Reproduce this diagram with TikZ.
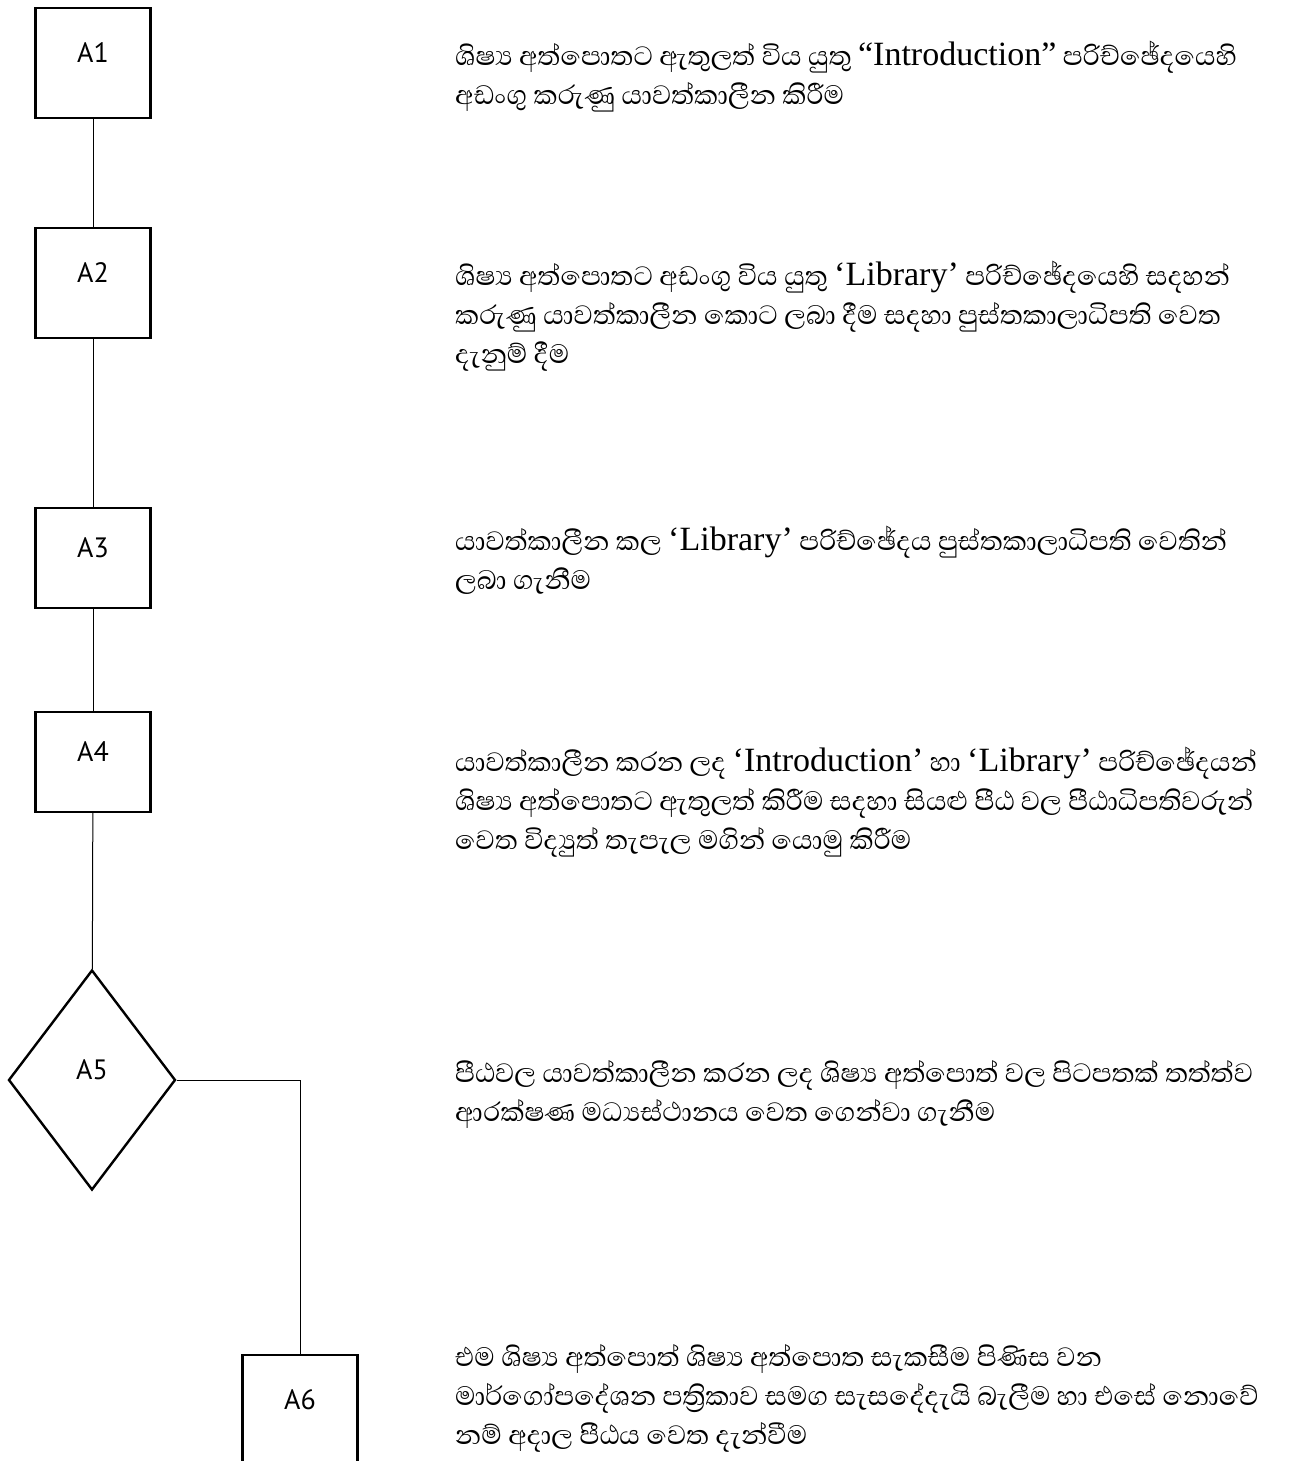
\documentclass[tikz,border=0pt]{standalone}
\usepackage{fontspec}
\setmainfont{Liberation Serif}
\newfontfamily\sinhalafont[Script=Sinhala]{Abhaya Libre}
\newfontfamily\latinfont{Liberation Serif}
\newfontfamily\tagfont{PT Sans}
\usetikzlibrary{shapes.geometric}
\begin{document}
\begin{tikzpicture}[x=1pt,y=-1pt,
	stepbox/.style={draw,line width=2.4pt,minimum width=115pt,inner sep=0pt},
	choice/.style={draw,diamond,line width=2.4pt,minimum width=167pt,minimum height=220pt,inner sep=0pt},
	tag/.style={font=\tagfont\fontsize{28}{30}\selectfont,inner sep=0pt},
	note/.style={anchor=base west,align=left,inner sep=0pt,font=\sinhalafont\fontsize{34}{39}\selectfont},
	link/.style={line width=1pt}]
	\useasboundingbox (0,0) rectangle (1297,1461);
	\clip (0,0) rectangle (1297,1461);
	
	\node[stepbox,minimum height=110pt] (A1) at (93,63) {};
	\node[stepbox,minimum height=110pt] (A2) at (93,283) {};
	\node[stepbox,minimum height=100pt] (A3) at (93,558) {};
	\node[stepbox,minimum height=100pt] (A4) at (93,762) {};
	\node[choice] (A5) at (92,1080) {};
	\node[stepbox,minimum height=110pt] (A6) at (300,1410) {};
	
	\node[tag] (A1t) at ([yshift=10pt]A1.center) {A1};
	\node[tag] (A2t) at ([yshift=10pt]A2.center) {A2};
	\node[tag] (A3t) at ([yshift=10pt]A3.center) {A3};
	\node[tag] (A4t) at ([yshift=10pt]A4.center) {A4};
	\node[tag] (A5t) at ([yshift=10pt]A5.center) {A5};
	\node[tag] (A6t) at ([yshift=10pt]A6.center) {A6};
	
	\draw[link] (A1) -- (A2);
	\draw[link] (A2) -- (A3);
	\draw[link] (A3) -- (A4);
	\draw[link] (A4) -- (A5);
	\draw[link] (A5.east) -| (A6.north);
	
	% notes: anchored at the baseline of their last line
	\node[note] (T1) at (455,105) {ශිෂ්‍ය අත්පොතට ඇතුලත් විය යුතු {\latinfont “Introduction”} පරිච්ඡේදයෙහි\\අඩංගු කරුණු යාවත්කාලීන කිරීම};
	\node[note] (T2) at (455,363) {ශිෂ්‍ය අත්පොතට අඩංගු විය යුතු {\latinfont ‘Library’} පරිච්ඡේදයෙහි සදහන්\\කරුණු යාවත්කාලීන කොට ලබා දීම සදහා පුස්තකාලාධිපති වෙත\\දැනුම් දීම};
	\node[note] (T3) at (455,589) {යාවත්කාලීන කල {\latinfont ‘Library’} පරිච්ඡේදය පුස්තකාලාධිපති වෙතින්\\ලබා ගැනීම};
	\node[note] (T4) at (455,849) {යාවත්කාලීන කරන ලද {\latinfont ‘Introduction’} හා {\latinfont ‘Library’} පරිච්ඡේදයන්\\ශිෂ්‍ය අත්පොතට ඇතුලත් කිරීම සදහා සියළු පීඨ වල පීඨාධිපතිවරුන්\\වෙත විද්‍යුත් තැපැල මගින් යොමු කිරීම};
	\node[note] (T5) at (455,1121) {පීඨවල යාවත්කාලීන කරන ලද ශිෂ්‍ය අත්පොත් වල පිටපතක් තත්ත්ව\\ආරක්ෂණ මධ්‍යස්ථානය වෙත ගෙන්වා ගැනීම};
	\node[note] (T6) at (455,1444) {එම ශිෂ්‍ය අත්පොත් ශිෂ්‍ය අත්පොත සැකසීම පිණිස වන\\මාර්ගෝපදේශන පත්‍රිකාව සමග සැසදේදැයි බැලීම හා එසේ නොවේ\\නම් අදාල පීඨය වෙත දැන්වීම};
\end{tikzpicture}
\end{document}
